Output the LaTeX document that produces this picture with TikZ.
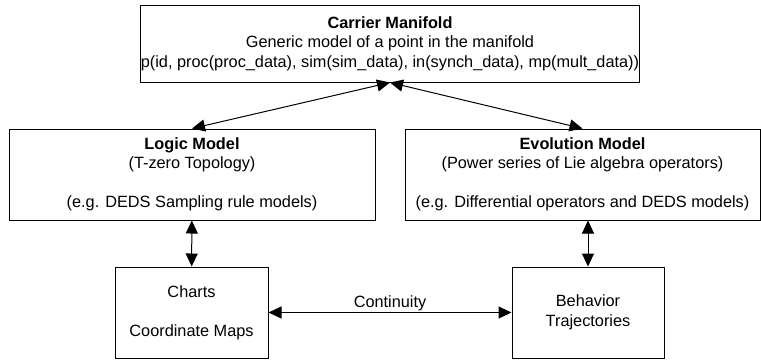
\documentclass[tikz,border=0pt]{standalone}
\usepackage{fontspec}
\setmainfont{Liberation Sans}
\usetikzlibrary{arrows.meta}
\tikzset{
  box/.style={draw, line width=1pt, align=center, inner sep=0pt, minimum height=91pt,
    font=\fontsize{16.3}{19.5}\selectfont},
  link/.style={{Triangle[length=13pt,width=12pt]}-{Triangle[length=13pt,width=12pt]}, line width=1pt},
  lbl/.style={font=\fontsize{16.3}{19.5}\selectfont, inner sep=1pt}
}
\begin{document}
\begin{tikzpicture}[x=1pt,y=-1pt]
\useasboundingbox (0,0) rectangle (761,360);
\node[box, minimum width=420pt, minimum height=77pt] (manifold) at (390,43.5)
  {\textbf{Carrier Manifold}\\Generic model of a point in the manifold\\p(id, proc(proc\_data), sim(sim\_data), in(synch\_data), mp(mult\_data))};
\node[box, minimum width=366pt] (logic) at (192,174.5)
  {\textbf{Logic Model}\\(T-zero Topology)\\[19.5pt](e.g. DEDS Sampling rule models)};
\node[box, minimum width=355pt] (evolution) at (582.5,174.5)
  {\textbf{Evolution Model}\\(Power series of Lie algebra operators)\\[19.5pt](e.g. Differential operators and DEDS models)};
\node[box, minimum width=153pt] (charts) at (191.5,312.5)
  {Charts\\[19.5pt]Coordinate Maps};
\node[box, minimum width=152pt] (behavior) at (588,312.5)
  {Behavior\\Trajectories};
\draw[link] (logic.north) -- (manifold.south);
\draw[link] (evolution.north) -- (manifold.south);
\draw[link] (logic) -- (charts);
\draw[link] (evolution.south -| behavior.north) -- (behavior.north);
\draw[link] (charts) -- node[lbl, above] (continuity) {Continuity} (behavior);
\end{tikzpicture}
\end{document}
